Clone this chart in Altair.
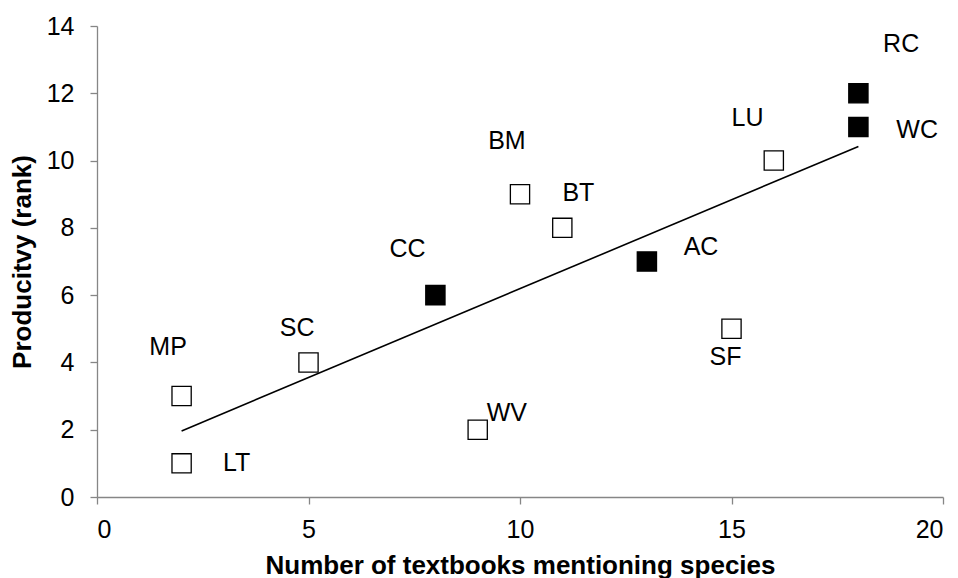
import altair as alt
import pandas as pd

species = ["MP", "LT", "SC", "CC", "WV", "BM", "BT", "AC", "SF", "LU", "WC", "RC"]
textbooks = [2, 2, 5, 8, 9, 10, 11, 13, 15, 16, 18, 18]
productivity = [3, 1, 4, 6, 2, 9, 8, 7, 5, 10, 11, 12]
filled = [False, False, False, True, False, False, False, True, False, False, True, True]
label_x = [1.68, 3.30, 4.73, 7.34, 9.69, 9.69, 11.38, 14.28, 14.86, 15.38, 19.39, 19.01]
label_y = [4.45, 1.0, 5.01, 7.37, 2.51, 10.58, 9.04, 7.42, 4.17, 11.27, 10.91, 13.47]

df = pd.DataFrame({
    "species": species,
    "x": textbooks,
    "y": productivity,
    "filled": ["yes" if f else "no" for f in filled],
    "lx": label_x,
    "ly": label_y,
})

FONT = "Liberation Sans"
FS = 25
TFS = 26

xscale = alt.Scale(domain=[0, 20], nice=False, zero=False)
yscale = alt.Scale(domain=[0, 14], nice=False, zero=False)

xaxis = alt.Axis(values=[0, 5, 10, 15, 20], title="Number of textbooks mentioning species",
                 grid=False, domainColor="#868686", domainWidth=1.3, tickColor="#868686",
                 tickWidth=1.3, tickSize=7,
                 labelFont=FONT, labelFontSize=FS, labelColor="black", labelPadding=13,
                 titleFont=FONT, titleFontSize=TFS, titleFontWeight="bold", titleColor="black",
                 titlePadding=10)
yaxis = alt.Axis(values=[0, 2, 4, 6, 8, 10, 12, 14], title="Producitvy (rank)",
                 grid=False, domainColor="#868686", domainWidth=1.3, tickColor="#868686",
                 tickWidth=1.3, tickSize=7,
                 labelFont=FONT, labelFontSize=FS, labelColor="black", labelPadding=16,
                 titleFont=FONT, titleFontSize=TFS, titleFontWeight="bold", titleColor="black",
                 titlePadding=11)

base = alt.Chart(df)

line = base.transform_regression("x", "y").mark_line(color="black", strokeWidth=1.6).encode(
    x=alt.X("x:Q", scale=xscale, axis=xaxis),
    y=alt.Y("y:Q", scale=yscale, axis=yaxis),
)

points = base.mark_square(size=370, strokeWidth=1.3, stroke="black", opacity=1).encode(
    x=alt.X("x:Q", scale=xscale),
    y=alt.Y("y:Q", scale=yscale),
    fill=alt.Fill("filled:N", scale=alt.Scale(domain=["no", "yes"], range=["white", "black"]), legend=None),
)

labels = base.mark_text(font=FONT, fontSize=FS, color="black", align="center", baseline="middle").encode(
    x=alt.X("lx:Q", scale=xscale),
    y=alt.Y("ly:Q", scale=yscale),
    text="species:N",
)

chart = alt.layer(line, points, labels).properties(
    width=846, height=471,
    autosize=alt.AutoSizeParams(type="none"),
    padding={"left": 89, "top": 18, "right": 5, "bottom": 82},
).configure(background="white").configure_view(stroke=None)

chart.save("out.html", embed_options={"renderer": "svg", "actions": False})
